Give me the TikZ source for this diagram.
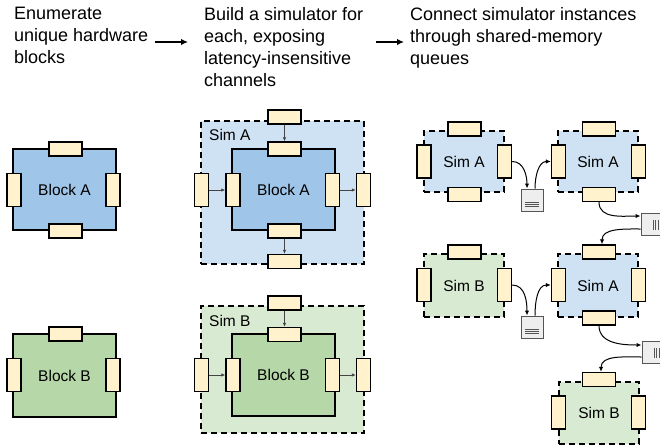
\documentclass[tikz,border=0pt]{standalone}
\usepackage{fontspec}
\setmainfont{Liberation Sans}
\usetikzlibrary{arrows.meta}
\definecolor{blkA}{HTML}{9FC5E8}
\definecolor{simAc}{HTML}{CFE2F3}
\definecolor{blkB}{HTML}{B6D7A8}
\definecolor{simBc}{HTML}{D9EAD3}
\definecolor{portc}{HTML}{FFF2CC}
\definecolor{qfill}{HTML}{EEEEEE}
\definecolor{qline}{HTML}{555555}
\definecolor{arrc}{HTML}{444444}
\begin{document}
\begin{tikzpicture}[x=1pt,y=-1pt,
 hdr/.style={anchor=north west, inner sep=0pt, align=left, font=\fontsize{18}{22}\selectfont},
 lbl/.style={inner sep=0pt, font=\fontsize{15.5}{18}\selectfont},
 blk/.style={draw=black, line width=1.6pt, inner sep=0pt, font=\fontsize{15.5}{18}\selectfont},
 blka/.style={blk, fill=blkA},
 blkb/.style={blk, fill=blkB},
 simbox/.style={draw=black, line width=1.6pt, dash pattern=on 6pt off 4pt, inner sep=0pt, font=\fontsize{15.5}{18}\selectfont},
 sima/.style={simbox, fill=simAc},
 simb/.style={simbox, fill=simBc},
 porth/.style={draw=black, fill=portc, line width=1.4pt, minimum width=33pt, minimum height=14pt, inner sep=0pt},
 portv/.style={draw=black, fill=portc, line width=1.4pt, minimum width=14pt, minimum height=33pt, inner sep=0pt},
 queue/.style={draw=qline, fill=qfill, line width=1pt, minimum width=22pt, minimum height=22pt, inner sep=0pt},
 qmark/.style={draw=qline, line width=0.9pt},
 inarr/.style={draw=arrc, line width=1pt, -{Latex[length=4pt,width=3.5pt]}},
 qarr/.style={draw=black, line width=1pt, -{Latex[length=5pt,width=4.5pt]}},
 harr/.style={draw=black, line width=1.8pt, -{Latex[length=7pt,width=6.5pt]}},
 ]
\useasboundingbox (0,0) rectangle (660,447);
\clip (0,0) rectangle (660,447);

% ---------- headers ----------
\node[hdr] (h1) at (14,7) {Enumerate\\unique hardware\\blocks};
\node[hdr] (h2) at (204,7) {Build a simulator for\\each, exposing\\latency-insensitive\\channels};
\node[hdr] (h3) at (410,7) {Connect simulator instances\\through shared-memory\\queues};
\coordinate (a1s) at (155,42);
\coordinate (a1e) at (188,42);
\coordinate (a2s) at (376,42);
\coordinate (a2e) at (404,42);
\draw[harr] (a1s) -- (a1e);
\draw[harr] (a2s) -- (a2e);

% ---------- column 1 ----------
\node[blka, minimum width=103pt, minimum height=81pt] (bA) at (64.5,189.5) {Block A};
\node[porth] (bAt) at (65.5,149) {};
\node[portv] (bAl) at (14,190) {};
\node[portv] (bAr) at (113,190) {};
\node[porth] (bAb) at (65.5,231) {};

\node[blkb, minimum width=103pt, minimum height=83pt] (bB) at (64.5,375.5) {Block B};
\node[porth] (bBt) at (65.5,334) {};
\node[portv] (bBl) at (14,375) {};
\node[portv] (bBr) at (113,375) {};

% ---------- column 2 : Sim A ----------
\node[sima, minimum width=163pt, minimum height=143pt] (sA) at (282.5,192.5) {};
\node[lbl, anchor=west] (sAl) at (209,135) {Sim A};
\node[blka, minimum width=103pt, minimum height=81pt] (iA) at (283.5,189.5) {Block A};
\node[porth] (iAt) at (284.5,149) {};
\node[portv] (iAl) at (233,190) {};
\node[portv] (iAr) at (332.5,190) {};
\node[porth] (iAb) at (284.5,231) {};
\node[porth] (oAt) at (284.5,117) {};
\node[portv] (oAl) at (201.5,190) {};
\node[portv] (oAr) at (363.5,190) {};
\node[porth] (oAb) at (284.5,261.5) {};
\draw[inarr] (oAt.south) -- (iAt.north);
\draw[inarr] (oAl.east) -- (iAl.west);
\draw[inarr] (iAr.east) -- (oAr.west);
\draw[inarr] (iAb.south) -- (oAb.north);

% ---------- column 2 : Sim B ----------
\node[simb, minimum width=163pt, minimum height=127pt] (sB) at (282.5,369.5) {};
\node[lbl, anchor=west] (sBl) at (209,321) {Sim B};
\node[blkb, minimum width=103pt, minimum height=82pt] (iB) at (283.5,375) {Block B};
\node[porth] (iBt) at (284.5,334.5) {};
\node[portv] (iBl) at (233,375) {};
\node[portv] (iBr) at (332.5,375) {};
\node[porth] (oBt) at (284.5,303) {};
\node[portv] (oBl) at (201.5,375) {};
\node[portv] (oBr) at (363.5,375) {};
\draw[inarr] (oBt.south) -- (iBt.north);
\draw[inarr] (oBl.east) -- (iBl.west);
\draw[inarr] (iBr.east) -- (oBr.west);

% ---------- column 3 ----------
% Sim A (1)
\node[sima, minimum width=80pt, minimum height=61pt] (A1) at (464,161.5) {Sim A};
\node[porth] (A1t) at (464.5,129) {};
\node[portv] (A1l) at (424,161.5) {};
\node[portv] (A1r) at (504.5,161.5) {};
\node[porth] (A1b) at (464.5,194.5) {};
% Sim A (2)
\node[sima, minimum width=80pt, minimum height=61pt] (A2) at (598,161.5) {Sim A};
\node[porth] (A2t) at (599,129) {};
\node[portv] (A2l) at (558.5,161.5) {};
\node[portv] (A2r) at (638.5,161.5) {};
\node[porth] (A2b) at (599,194.5) {};
% Sim B (1)
\node[simb, minimum width=80pt, minimum height=63pt] (B1) at (464,285.5) {Sim B};
\node[porth] (B1t) at (464.5,252) {};
\node[portv] (B1l) at (424,285) {};
\node[portv] (B1r) at (504.5,285) {};
% Sim A (3)
\node[sima, minimum width=80pt, minimum height=63pt] (A3) at (598,285.5) {Sim A};
\node[porth] (A3t) at (599,252) {};
\node[portv] (A3l) at (558.5,285) {};
\node[portv] (A3r) at (638.5,285) {};
\node[porth] (A3b) at (599,318) {};
% Sim B (2)
\node[simb, minimum width=80pt, minimum height=62pt] (B2) at (599,413) {Sim B};
\node[porth] (B2t) at (599,379.5) {};
\node[portv] (B2l) at (558.5,412.5) {};
\node[portv] (B2r) at (638.5,412.5) {};

% queues
\node[queue] (q1) at (532,200) {};
\node[queue] (q2) at (652,224) {};
\node[queue] (q3) at (532,327) {};
\node[queue] (q4) at (653,352) {};
\foreach \d in {2.5,4.5,6.5}{
  \draw[qmark] ([shift={(-7,\d)}]q1.center) -- ([shift={(7,\d)}]q1.center);
  \draw[qmark] ([shift={(-7,\d)}]q3.center) -- ([shift={(7,\d)}]q3.center);
}
\foreach \d in {1,3.5,6}{
  \draw[qmark] ([shift={(\d,-4)}]q2.center) -- ([shift={(\d,6)}]q2.center);
  \draw[qmark] ([shift={(\d,-4)}]q4.center) -- ([shift={(\d,6)}]q4.center);
}

% queue connectors
\draw[qarr] (A1r.east) to[out=0,in=90] ([xshift=-5pt]q1.north);
\draw[qarr] ([xshift=3pt]q1.north) to[out=90,in=180] (A2l.west);
\draw[qarr] (A2b.south) to[out=-90,in=180] ([yshift=8pt]q2.west);
\draw[qarr] ([yshift=-5pt]q2.west) to[out=180,in=90] ([xshift=3pt]A3t.north);
\draw[qarr] (B1r.east) to[out=0,in=90] ([xshift=-5pt]q3.north);
\draw[qarr] ([xshift=3pt]q3.north) to[out=90,in=180] (A3l.west);
\draw[qarr] (A3b.south) to[out=-90,in=180] ([yshift=7pt]q4.west);
\draw[qarr] ([yshift=-5pt]q4.west) to[out=180,in=90] ([xshift=2pt]B2t.north);
\end{tikzpicture}
\end{document}
